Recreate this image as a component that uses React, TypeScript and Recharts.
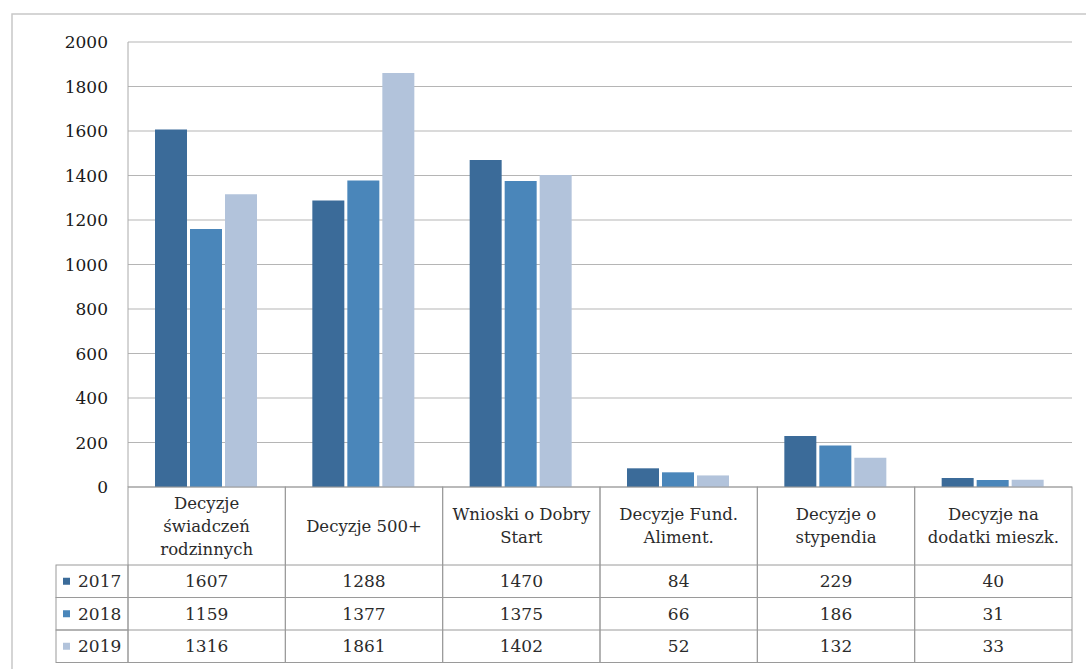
import React from "react";
import { BarChart, Bar, XAxis, YAxis, CartesianGrid } from "recharts";

const categories = [
  "Decyzje\nświadczeń\nrodzinnych",
  "Decyzje 500+",
  "Wnioski o Dobry\nStart",
  "Decyzje Fund.\nAliment.",
  "Decyzje o\nstypendia",
  "Decyzje na\ndodatki mieszk.",
];
const values2017 = [1607, 1288, 1470, 84, 229, 40];
const values2018 = [1159, 1377, 1375, 66, 186, 31];
const values2019 = [1316, 1861, 1402, 52, 132, 33];
const seriesNames = ["2017", "2018", "2019"];
const yTicks = [0, 200, 400, 600, 800, 1000, 1200, 1400, 1600, 1800, 2000];

const seriesValues = [values2017, values2018, values2019];
const colors = ["#3b6b99", "#4a86ba", "#b2c3db"];

const data = categories.map((c, i) => ({
  name: c,
  "2017": values2017[i],
  "2018": values2018[i],
  "2019": values2019[i],
}));

const W = 1086;
const H = 669;
const PLOT_L = 128;
const PLOT_R = 1072;
const PLOT_T = 42;
const PLOT_B = 487;
const BAND = (PLOT_R - PLOT_L) / categories.length;
const HEAD_H = 78;
const ROW_H = 32.5;
const LEG_L = 56;
const FONT = "'DejaVu Serif', serif";
const TEXT = "#2b2b2b";
const BORDER = "#9a9a9a";

const TableTick = (props: any) => {
  const { x, payload, index } = props;
  const left = x - BAND / 2;
  const lines: string[] = String(payload.value).split("\n");
  const lh = 23;
  const headMid = PLOT_B + HEAD_H / 2;
  const startY = headMid - ((lines.length - 1) * lh) / 2;
  return (
    <g>
      <rect x={left} y={PLOT_B} width={BAND} height={HEAD_H + ROW_H * 3} fill="none" stroke={BORDER} />
      {seriesValues.map((_, r) => (
        <line key={"l" + r} x1={left} x2={left + BAND} y1={PLOT_B + HEAD_H + ROW_H * r} y2={PLOT_B + HEAD_H + ROW_H * r} stroke={BORDER} />
      ))}
      {lines.map((ln, k) => (
        <text key={"t" + k} x={x} y={startY + k * lh} textAnchor="middle" dominantBaseline="central" fontFamily={FONT} fontSize={16.5} fill={TEXT}>
          {ln}
        </text>
      ))}
      {seriesValues.map((vals, r) => (
        <text key={"v" + r} x={x} y={PLOT_B + HEAD_H + ROW_H * r + ROW_H / 2} textAnchor="middle" dominantBaseline="central" fontFamily={FONT} fontSize={17} fill={TEXT}>
          {vals[index]}
        </text>
      ))}
      {index === 0 && (
        <g>
          {seriesNames.map((s, r) => {
            const y0 = PLOT_B + HEAD_H + ROW_H * r;
            return (
              <g key={"lg" + r}>
                <rect x={LEG_L} y={y0} width={left - LEG_L} height={ROW_H} fill="none" stroke={BORDER} />
                <rect x={63} y={y0 + ROW_H / 2 - 3.5} width={7} height={7} fill={colors[r]} />
                <text x={78} y={y0 + ROW_H / 2} dominantBaseline="central" fontFamily={FONT} fontSize={17} fill={TEXT}>
                  {s}
                </text>
              </g>
            );
          })}
        </g>
      )}
    </g>
  );
};

export default function App() {
  return (
    <div style={{ position: "absolute", left: 0, top: 0, width: W, height: H, background: "#fff" }}>
      <svg style={{ position: "absolute", left: 0, top: 0 }} width={W} height={H}>
        <rect x={12} y={14} width={W + 20} height={H + 20} fill="none" stroke="#c8c8c8" strokeWidth={1.5} />
      </svg>
      <div style={{ position: "absolute", left: 0, top: 0 }}>
        <BarChart
          width={W}
          height={H}
          data={data}
          margin={{ top: PLOT_T, right: W - PLOT_R, bottom: 4, left: 0 }}
          barCategoryGap={27}
          barGap={3}
        >
          <CartesianGrid horizontal vertical={false} stroke="#b5b5b5" />
          <YAxis
            width={PLOT_L}
            domain={[0, 2000]}
            ticks={yTicks}
            tickLine={false}
            tickSize={0}
            tickMargin={20}
            axisLine={{ stroke: "#aaaaaa" }}
            tick={{ fontFamily: FONT, fontSize: 17, fill: "#1a1a1a" }}
            interval={0}
          />
          <XAxis
            dataKey="name"
            height={H - PLOT_B - 4}
            axisLine={false}
            tickLine={false}
            interval={0}
            tick={<TableTick />}
          />
          {seriesNames.map((s, i) => (
            <Bar key={s} dataKey={s} fill={colors[i]} isAnimationActive={false} />
          ))}
        </BarChart>
      </div>
    </div>
  );
}
